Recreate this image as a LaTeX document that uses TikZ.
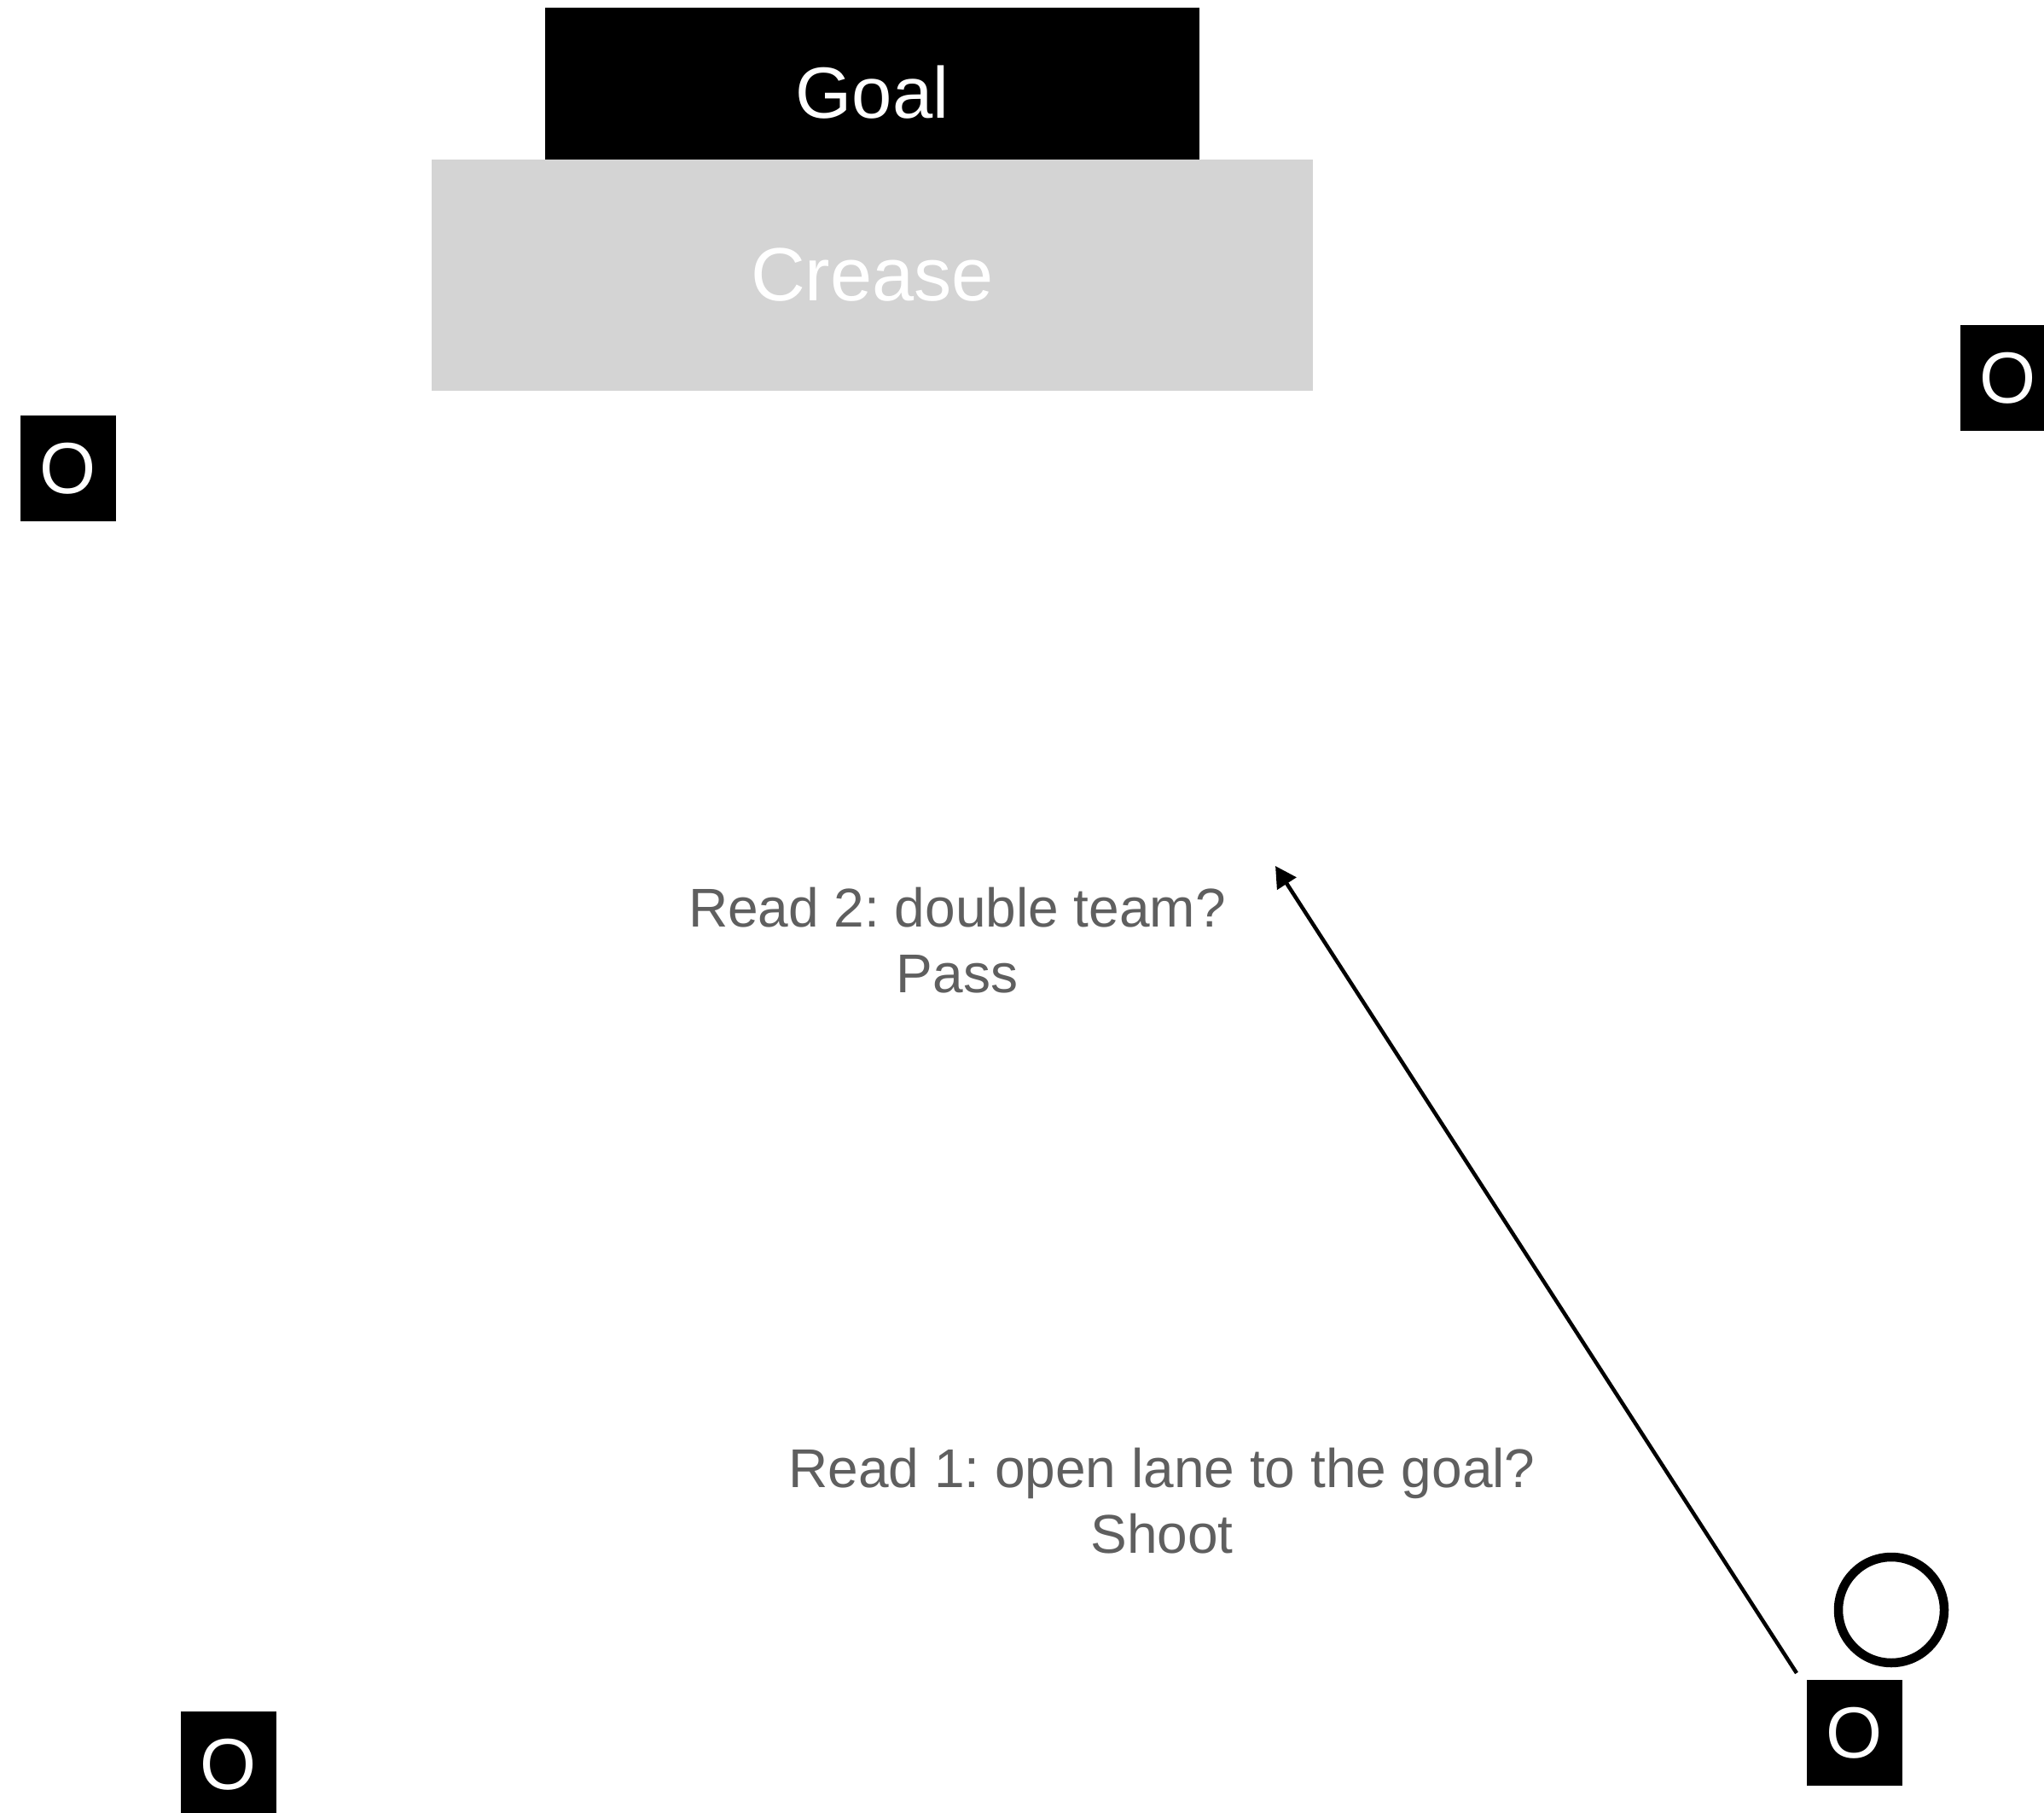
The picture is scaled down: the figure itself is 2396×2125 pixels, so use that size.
\documentclass[tikz,border=0pt]{standalone}
\usepackage{fontspec}
\setmainfont{Liberation Sans}
\usetikzlibrary{arrows.meta}
\definecolor{creasegray}{RGB}{212,212,212}
\definecolor{labelgray}{RGB}{95,95,95}
\frenchspacing
\begin{document}
\begin{tikzpicture}[x=0.3pt,y=-0.3pt,
  player/.style={fill=black,text=white,minimum width=33.6pt,minimum height=37.2pt,inner sep=0pt,font=\fontsize{25.5}{30}\selectfont},
  readlabel/.style={text=labelgray,align=center,inner sep=0pt,font=\fontsize{19.2}{23.1}\selectfont},
  shot/.style={line width=1.35pt,-{Triangle[length=7.4pt,width=7.8pt]}}]
\useasboundingbox (0,0) rectangle (2396,2125);
\clip (0,0) rectangle (2396,2125);
\node[fill=black,text=white,minimum width=230.1pt,minimum height=53.4pt,inner sep=0pt,text height=24.3pt,text depth=0pt,font=\fontsize{25.5}{30}\selectfont] (goal) at (1022.5,98) {Goal};
\node[fill=creasegray,text=white,minimum width=309.9pt,minimum height=81.3pt,inner sep=0pt,font=\fontsize{26.5}{30}\selectfont] (crease) at (1022.5,322.5) {Crease};
\node[player] (o1) at (80,549) {O};
\node[player] (o2) at (2354,443) {O};
\node[player] (o3) at (268,2068) {O};
\node[player] (o4) at (2174,2031) {O};
\node[draw=black,line width=3.15pt,circle,minimum size=37.2pt,inner sep=0pt] (ball) at (2217,1887) {};
\node[readlabel] (read2) at (1122,1102) {Read 2: double team?\\Pass};
\node[readlabel] (read1) at (1362,1759) {Read 1: open lane to the goal?\\Shoot};
\coordinate (shotstart) at (2106,1961);
\coordinate (shotend) at (1495,1015);
\draw[shot] (shotstart) -- (shotend);
\end{tikzpicture}
\end{document}
